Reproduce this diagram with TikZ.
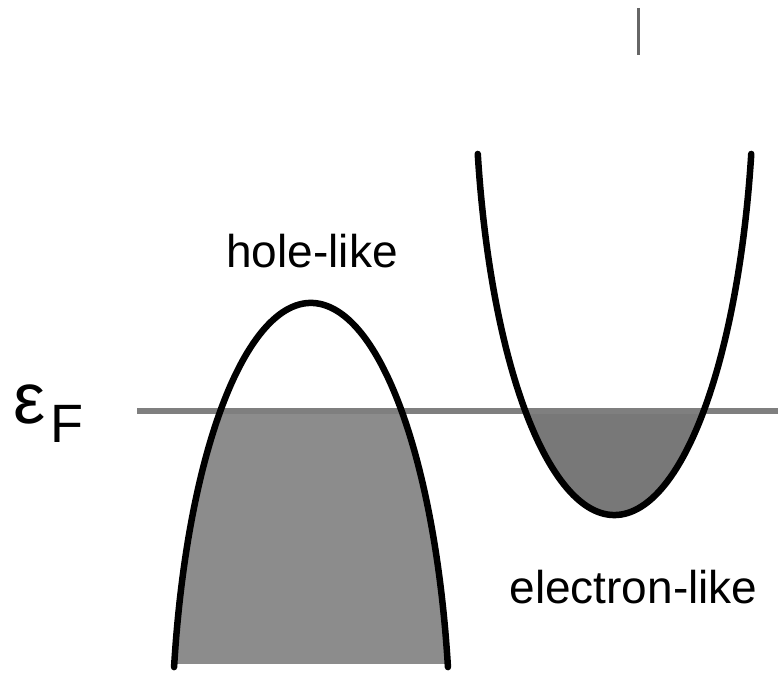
\documentclass[tikz,border=0pt]{standalone}
\usepackage{fontspec}
\setmainfont{Liberation Sans}
\definecolor{holefill}{HTML}{8C8C8C}
\definecolor{elecfill}{HTML}{787878}
\definecolor{fermigray}{HTML}{7F7F7F}
\begin{document}
\begin{tikzpicture}[x=1pt, y=1pt,
    band/.style={line width=6.5pt, line cap=round},
    fermi/.style={line width=6.5pt, draw=fermigray},
    bandlabel/.style={anchor=base, font=\fontsize{46}{50}\selectfont}]
        \useasboundingbox (0,0) rectangle (778,675);

        % Centres of the two band ellipses
        \coordinate (hole) at (311,-78);
        \coordinate (elec) at (614.5,610);

        % Occupied states below the Fermi level
        \begin{scope}
            \clip (0,12) rectangle (778,264);
            \fill[holefill] (hole) ellipse[x radius=139.5, y radius=450];
        \end{scope}
        \begin{scope}
            \clip (0,0) rectangle (778,264);
            \fill[elecfill] (elec) ellipse[x radius=139.5, y radius=450];
        \end{scope}

        % Fermi level
        \coordinate (fermi west) at (137,264);
        \coordinate (fermi east) at (778,264);
        \draw[fermi] (fermi west) -- (fermi east);
        \node[anchor=base west, inner sep=0pt] (fermilabel) at (13,252)
            {\fontsize{72}{72}\selectfont ε\kern5pt\raisebox{-19pt}{\fontsize{54}{54}\selectfont F}};

        % Hole-like band (downward)
        \draw[band] ([shift={(169:139.5 and 450)}]hole)
            arc[start angle=169, end angle=11, x radius=139.5, y radius=450];
        \node[bandlabel] (holelabel) at (312,407) {hole-like};

        % Electron-like band (upward)
        \draw[band] ([shift={(191.4:139.5 and 450)}]elec)
            arc[start angle=191.4, end angle=348.6, x radius=139.5, y radius=450];
        \node[bandlabel] (eleclabel) at (633.5,72) {electron-like};

        % Small tick at the top
        \coordinate (tick top) at (638,667);
        \coordinate (tick bottom) at (638,620);
        \draw[line width=3pt, draw=black!60] (tick top) -- (tick bottom);
    \end{tikzpicture}
\end{document}
